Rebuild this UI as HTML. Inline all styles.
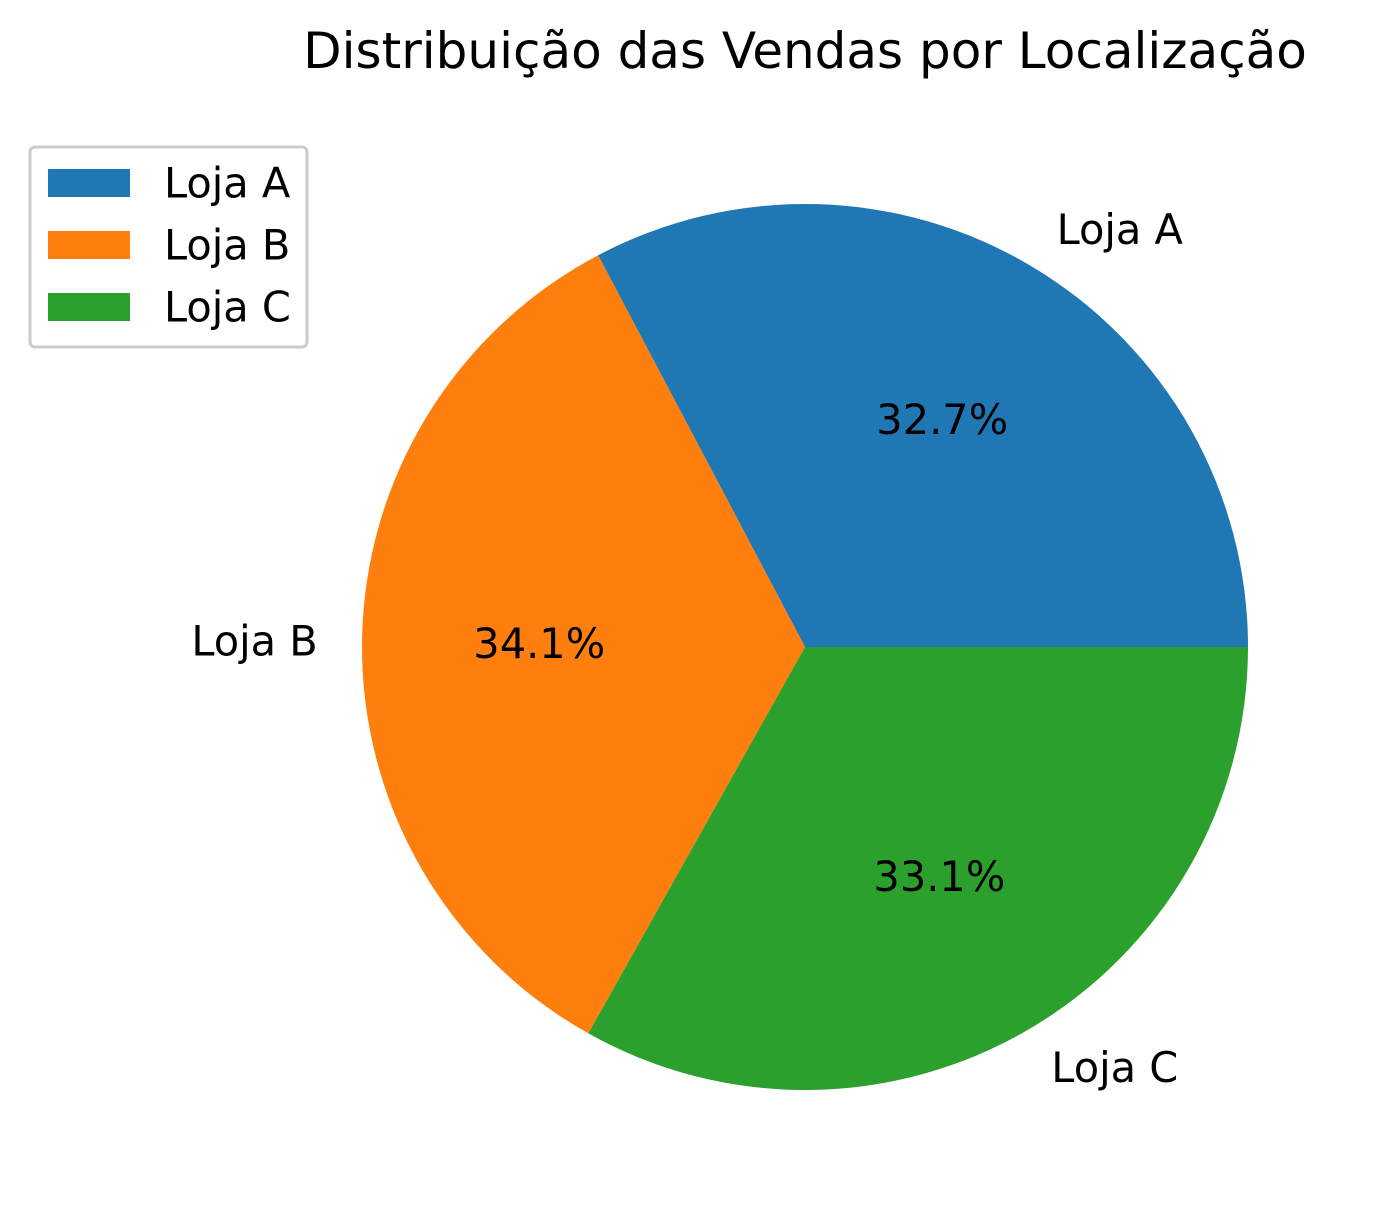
<!DOCTYPE html>
<html><head><meta charset="utf-8">
<style>
html,body{margin:0;padding:0;background:#fff;}
svg{display:block;font-family:"DejaVu Sans","Liberation Sans",sans-serif;}
</style></head>
<body>
<svg id="chart" width="1389" height="1232" viewBox="0 0 1389 1232">
<text x="805" y="68" text-anchor="middle" font-size="50" fill="#000">Distribuição das Vendas por Localização</text>
<g id="slices"></g>
<g id="legend">
<rect x="30" y="147" width="277" height="200" rx="5" fill="#fff" stroke="#ccc" stroke-width="3"/>
</g>
</svg>
<script>
const categories = ["Loja A", "Loja B", "Loja C"];
const values = [32.7, 34.1, 33.1];
const colors = ["#1f77b4", "#ff7f0e", "#2ca02c"];

const svg = document.getElementById('chart');
const gS = document.getElementById('slices');
const gL = document.getElementById('legend');
const NS = "http://www.w3.org/2000/svg";
const cx = 805, cy = 647, r = 443;
const total = values.reduce((a,b)=>a+b,0);
function pt(angDeg, rad){ const a = angDeg*Math.PI/180; return [cx + rad*Math.cos(a), cy - rad*Math.sin(a)]; }
let start = 0;
values.forEach((v,i)=>{
  const sweep = v/total*360;
  const end = start + sweep;
  const p1 = pt(start, r), p2 = pt(end, r);
  const large = sweep > 180 ? 1 : 0;
  const path = document.createElementNS(NS,'path');
  path.setAttribute('d', `M${cx},${cy} L${p1[0]},${p1[1]} A${r},${r} 0 ${large} 0 ${p2[0]},${p2[1]} Z`);
  path.setAttribute('fill', colors[i]);
  
  
  gS.appendChild(path);
  const mid = (start+end)/2;
  const lp = pt(mid, r*1.1);
  const lab = document.createElementNS(NS,'text');
  lab.setAttribute('x', lp[0]); lab.setAttribute('y', lp[1]);
  lab.setAttribute('text-anchor', Math.cos(mid*Math.PI/180) >= 0 ? 'start' : 'end');
  lab.setAttribute('dominant-baseline', 'central');
  lab.setAttribute('font-size', '41.5');
  lab.textContent = categories[i];
  
  
  gS.appendChild(lab);
  const pp = pt(mid, r*0.6);
  const pc = document.createElementNS(NS,'text');
  pc.setAttribute('x', pp[0]); pc.setAttribute('y', pp[1]);
  pc.setAttribute('text-anchor', 'middle');
  pc.setAttribute('dominant-baseline', 'central');
  pc.setAttribute('font-size', '41.5');
  pc.textContent = (v/total*100).toFixed(1) + '%';
  
  
  gS.appendChild(pc);
  const ly = 183 + i*62;
  const sw = document.createElementNS(NS,'rect');
  sw.setAttribute('x', 48); sw.setAttribute('y', ly-14);
  sw.setAttribute('width', 82); sw.setAttribute('height', 28);
  sw.setAttribute('fill', colors[i]);
  
  
  gL.appendChild(sw);
  const lt = document.createElementNS(NS,'text');
  lt.setAttribute('x', 164); lt.setAttribute('y', ly);
  lt.setAttribute('dominant-baseline', 'central');
  lt.setAttribute('font-size', '41.5');
  lt.textContent = categories[i];
  
  
  gL.appendChild(lt);
  start = end;
});
</script>
</body></html>
